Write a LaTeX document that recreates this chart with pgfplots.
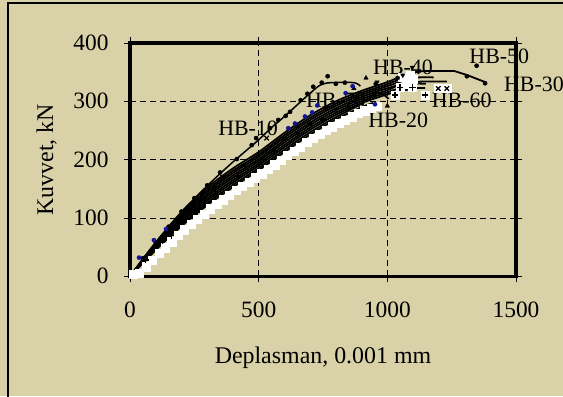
\documentclass[border=0pt]{standalone}
\usepackage{fontspec}
\setmainfont{Liberation Serif}
\usepackage{pgfplots}
\pgfplotsset{compat=1.18}
\definecolor{bg}{RGB}{217,210,168}
\definecolor{mblue}{RGB}{20,20,150}
\begin{document}
\fontsize{22}{26}\selectfont
\begin{tikzpicture}[x=1bp,y=1bp]
\useasboundingbox (0,0) rectangle (563,396);
\fill[bg] (0,0) rectangle (563,396);
\draw[black, line width=1.6bp] (8,-2) -- (8,392.7) -- (565,392.7);
\begin{axis}[
  at={(130bp,119.7bp)}, anchor=south west,
  scale only axis, width=386bp, height=233.3bp,
  xmin=0, xmax=1500, ymin=0, ymax=400,
  xtick={0,500,1000,1500}, ytick={0,100,200,300,400},
  /pgf/number format/1000 sep={},
  /pgf/number format/assume math mode=true,
  tick label style={font=\fontsize{23.5}{28}\selectfont, text=black},
  xticklabel style={yshift=-12bp},
  yticklabel style={xshift=-8bp},
  label style={font=\fontsize{24}{28}\selectfont, text=black},
  xmajorgrids, ymajorgrids,
  grid style={black, line width=0.8bp, dash pattern=on 6bp off 4bp},
  axis line style={black, line width=3.6bp},
  tick align=outside, major tick length=6bp,
  tick style={black, line width=0.8bp},
  xlabel={Deplasman, 0.001 mm},
  ylabel={Kuvvet, kN},
  xlabel style={at={(axis description cs:0.5,-0.350)}, anchor=center},
  ylabel style={at={(axis description cs:-0.2158,0.5)}, anchor=center},
  clip=false,
  every axis plot/.append style={line join=round},
]
% labels (drawn under the curves)
\node[font=\fontsize{22}{26}\selectfont] at (axis cs:459,254) {HB-10};
\node[font=\fontsize{22}{26}\selectfont] at (axis cs:800,302) {HB-70};
\node[font=\fontsize{22}{26}\selectfont] at (axis cs:1061,358) {HB-40};
\node[font=\fontsize{22}{26}\selectfont] at (axis cs:1435,378) {HB-50};
\node[font=\fontsize{22}{26}\selectfont, anchor=west, inner sep=0pt] at (axis cs:1453,330) {HB-30};
\node[font=\fontsize{22}{26}\selectfont] at (axis cs:1289,301) {HB-60};
\node[font=\fontsize{22}{26}\selectfont] at (axis cs:1042,267) {HB-20};
% white marker backgrounds
\addplot[only marks, mark=square*, mark size=4.1bp, mark options={draw=white, fill=white}] coordinates {
(12,3)(37,6)(62,16.5)(87,28)(112,39)(137,49)(162,59.5)(187,70)(212,80)(237,89)(262,98)(287,107)(312,116)(337,124)(362,131.5)(387,139)(412,147)(437,154)(462,161.5)(487,169)(512,176)(537,184)(562,191.5)(587,199)(612,207)(637,214.5)(662,222)(687,229.5)(712,237)(737,243.5)(762,250)(787,256.5)(812,263)(837,268)(862,273.5)(887,279)(912,284)(937,288)(962,291.5)
(1030,311)(1147,311)(1198,322)(1231,322)(1060,342)(1090,345)(1100,338)(1049,324)(1098,324)(1075,330)
};
% HB-10
\addplot[black, line width=1.5bp, smooth, mark=none] coordinates {
(0,0)(50,30)(100,58)(150,84)(200,110)(250,133)(300,155)(350,176)(400,196)(450,215)(500,234)(550,255)(600,274)(650,294)(700,314)(740,328)(780,332)(870,332)(895,326)};
\addplot[only marks, black, mark=*, mark size=2.1bp] coordinates {
(50,31)(100,58)(150,85)(200,111)(250,134)(300,156)(350,178)(415,201)(473,225)(490,237)(544,254)(576,268)(605,275)(622,282)(663,302)(689,313)(712,325)(745,332)(768,343)(800,330)(835,332)};
% lower bundle
\addplot[black, line width=1.8bp, smooth] coordinates {
(0,0)(100,58)(200,110)(300,152)(400,185)(500,213)(600,246)(700,276)(800,300)(900,318)(1000,333)(1050,342)(1100,349)(1130,351)};
\addplot[black, line width=1.8bp, smooth] coordinates {
(0,0)(100,56.3)(200,106.9)(300,148.1)(400,180.8)(500,209)(600,241.7)(700,271.7)(800,296)(900,314.4)(1000,329.4)(1060,340)(1110,350)(1150,352)};
\addplot[black, line width=1.8bp] coordinates {
(1150,352)(1260,352)(1310,345)(1380,333)};
\addplot[black, line width=1.8bp, smooth] coordinates {
(0,0)(100,54.8)(200,104)(300,144.5)(400,177)(500,205.3)(600,237.8)(700,267.8)(800,292.3)(900,311)(1000,326)(1100,340)(1180,341)};
\addplot[black, line width=1.8bp, smooth] coordinates {
(0,0)(100,53.1)(200,100.9)(300,140.6)(400,172.8)(500,201.2)(600,233.5)(700,263.5)(800,288.2)(900,307.4)(1000,322.4)(1100,333)(1231,334)};
\addplot[black, line width=1.8bp, smooth] coordinates {
(0,0)(100,51.5)(200,98)(300,137)(400,169)(500,197.5)(600,229.5)(700,259.5)(800,284.5)(900,304)(1000,319)(1060,330)(1150,330)};
\addplot[black, line width=1.8bp, smooth] coordinates {
(0,0)(100,49.8)(200,94.9)(300,133.1)(400,164.8)(500,193.5)(600,225.2)(700,255.2)(800,280.5)(900,300.4)(1000,315.4)(1050,322)(1147,323)};
\addplot[black, line width=1.8bp, smooth] coordinates {
(0,0)(100,48.3)(200,92)(300,129.5)(400,161)(500,189.8)(600,221.3)(700,251.3)(800,276.8)(900,297)(1000,312)(1050,318)(1100,321)};
\addplot[black, line width=1.8bp, smooth] coordinates {
(0,0)(100,46.6)(200,88.9)(300,125.6)(400,156.8)(500,185.7)(600,217)(700,247)(800,272.7)(900,296)(950,313)(980,313)(1005,304)};
\addplot[black, line width=1.8bp, smooth] coordinates {
(0,0)(100,45)(200,86)(300,122)(400,153)(500,182)(600,213)(700,243)(800,269)(900,290)(950,298)};
% markers
\addplot[only marks, black, mark=+, mark size=3.2bp, line width=1.3bp] coordinates {
(1030,311)(1147,311)(1049,324)(1098,324)(60,28)(160,70)(260,110)(330,140)(420,172)(500,195)(560,215)(650,245)(750,268)(850,290)(950,310)};
\addplot[only marks, black, mark=x, mark size=3.2bp, line width=1.3bp] coordinates {
(1198,322)(1231,322)(120,60)(200,100)(280,138)(360,170)(440,190)(531,237)(600,236)(700,262)(800,285)(880,304)};
\addplot[only marks, black, mark=triangle*, mark size=2.6bp] coordinates {
(917,340)(1000,292)(870,322)(650,257)(450,185)(250,118)};
\addplot[only marks, black, mark=triangle*, mark size=2.6bp, mark options={rotate=180}] coordinates {
(1097,358)(1060,345)(960,333)(760,288)(330,152)};
\addplot[only marks, mblue, mark=*, mark size=2.1bp] coordinates {
(35,32)(93,62)(140,81)(615,254)(641,262)(680,274)(708,281)(728,293)(838,314)(865,326)(952,295)};
\addplot[only marks, black, mark=*, mark size=2.1bp] coordinates {
(1347,361)(1309,343)(1380,331)(955,330)(1040,340)};
\end{axis}
\end{tikzpicture}
\end{document}
